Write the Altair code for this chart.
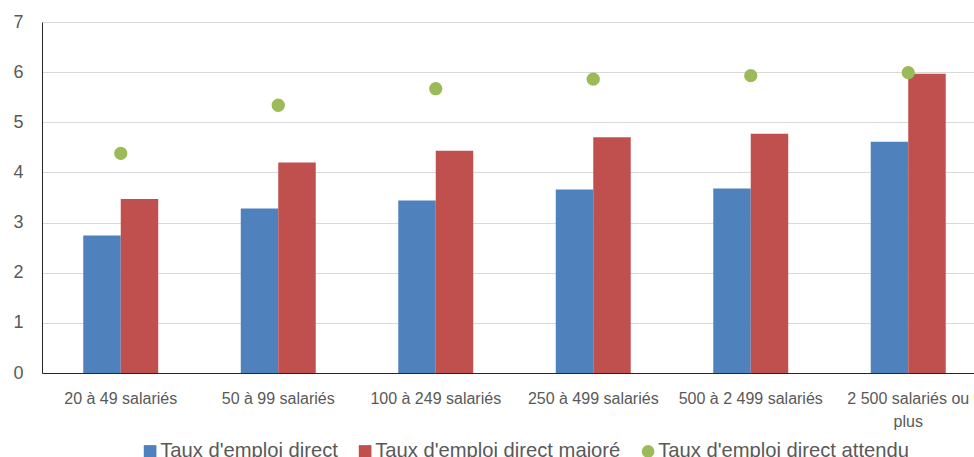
import altair as alt
import pandas as pd

categories = ["20 à 49 salariés", "50 à 99 salariés", "100 à 249 salariés",
              "250 à 499 salariés", "500 à 2 499 salariés", "2 500 salariés ou plus"]
direct = [2.74, 3.28, 3.44, 3.66, 3.68, 4.61]
majore = [3.47, 4.20, 4.43, 4.70, 4.77, 5.97]
attendu = [4.38, 5.34, 5.67, 5.86, 5.93, 5.99]
series = ["Taux d'emploi direct", "Taux d'emploi direct majoré", "Taux d'emploi direct attendu"]
colors = ["#4F81BD", "#C0504D", "#9BBB59"]
shapes = ["square", "square", "circle"]
y_ticks = [0, 1, 2, 3, 4, 5, 6, 7]

bars_rows = []
for c, a, b in zip(categories, direct, majore):
    bars_rows.append({"cat": c, "serie": series[0], "val": a})
    bars_rows.append({"cat": c, "serie": series[1], "val": b})
bars_df = pd.DataFrame(bars_rows)
pts_df = pd.DataFrame({"cat": categories, "serie": series[2], "val": attendu})

FONT = "Liberation Sans"
GRAY = "#595959"

legend_args = dict(
    orient="none", legendX=98, legendY=419, direction="horizontal", columns=3,
    title=None, labelFontSize=20.2, labelFont=FONT, labelColor=GRAY, labelLimit=0,
    symbolSize=160, symbolStrokeWidth=0, labelOffset=0, columnPadding=17, padding=0,
)

x_enc = alt.X(
    "cat:N", sort=categories, title=None,
    scale=alt.Scale(range=[0, 945], paddingInner=0.524, paddingOuter=0.262),
    axis=alt.Axis(
        labelAngle=0, labelFontSize=16, labelFont=FONT, labelColor=GRAY,
        ticks=False, tickSize=0, labelPadding=17, labelLimit=0,
        domainColor="#262626", domainWidth=1, grid=False,
        labelLineHeight=23,
        labelExpr="datum.label == '2 500 salariés ou plus' ? ['2 500 salariés ou', 'plus'] : datum.label",
    ),
)
y_enc = alt.Y(
    "val:Q", title=None,
    scale=alt.Scale(domain=[0, 7], nice=False),
    axis=alt.Axis(
        values=y_ticks, labelFontSize=18, labelFont=FONT, labelColor=GRAY,
        ticks=False, tickSize=0, labelPadding=19, domainColor="#262626",
        domainWidth=1, grid=True, gridColor="#D9D9D9", gridWidth=1.2,
    ),
)
color_enc = alt.Color("serie:N", scale=alt.Scale(domain=series, range=colors),
                      legend=alt.Legend(**legend_args))

bars = alt.Chart(bars_df).mark_bar().encode(
    x=x_enc, y=y_enc,
    xOffset=alt.XOffset("serie:N", sort=series[:2], scale=alt.Scale(paddingInner=0, paddingOuter=0)),
    color=color_enc,
)
points = alt.Chart(pts_df).mark_point(filled=True, opacity=1, size=177).encode(
    x=x_enc, y=y_enc,
    color=color_enc,
    shape=alt.Shape("serie:N", scale=alt.Scale(domain=series, range=shapes),
                    legend=alt.Legend(**legend_args)),
)

chart = alt.layer(bars, points).properties(
    width=932, height=351,
    autosize=alt.AutoSizeParams(type="none"),
    padding={"left": 42, "top": 22, "right": 0, "bottom": 84},
    background="white",
).configure_view(stroke=None)

chart.save("out.html", embed_options={"renderer": "svg", "actions": False})
